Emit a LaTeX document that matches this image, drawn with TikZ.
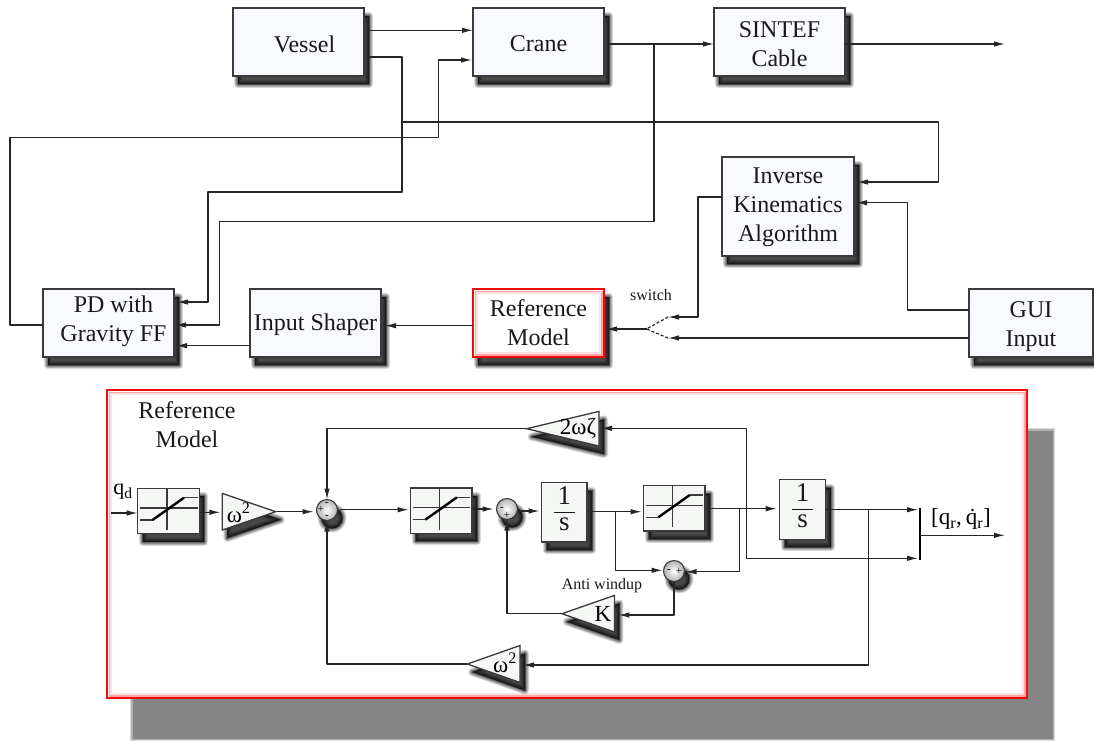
\documentclass[tikz,border=0pt]{standalone}
\usepackage{fontspec}
\setmainfont{Liberation Serif}
\usetikzlibrary{arrows.meta,shadows,shapes.geometric}
\definecolor{boxfill}{HTML}{F8FAFF}
\definecolor{lowfill}{HTML}{F5F7F5}
\definecolor{edge}{HTML}{3A3A3A}
\definecolor{shgray}{HTML}{858585}
\definecolor{redframe}{HTML}{F00A0A}
\newcommand{\nudge}[2]{\raisebox{#1}[\height][\depth]{#2}}
\newcommand{\oneovers}{{\setlength{\arrayrulewidth}{1pt}\renewcommand{\arraystretch}{.86}\begin{tabular}{@{}c@{}}\makebox[21pt]{1}\\\hline s\end{tabular}}}
\newcommand{\satsymbol}[1]{%
  \draw[edge,line width=1.1pt] ([shift={(-28.5pt,3pt)}]#1.center) -- ([shift={(29pt,3pt)}]#1.center);
  \draw[edge,line width=1.1pt] ([shift={(-1.5pt,22pt)}]#1.center) -- ([shift={(-1.5pt,-19pt)}]#1.center);
  \draw[edge,line width=1.1pt] ([shift={(-28.5pt,-9pt)}]#1.center) -- ([shift={(-16pt,-9pt)}]#1.center);
  \draw[edge,line width=1.1pt] ([shift={(15.5pt,13.3pt)}]#1.center) -- ([shift={(29pt,13.3pt)}]#1.center);
  \draw[black,line width=2.4pt] ([shift={(-16pt,-9pt)}]#1.center) -- ([shift={(15.5pt,13.3pt)}]#1.center);
}
\newcommand{\redglow}[1]{%
  \draw[draw=red!12,line width=2pt] ([shift={(4.4pt,-4.4pt)}]#1.north west) rectangle ([shift={(-4.4pt,4.4pt)}]#1.south east);
  \draw[draw=red!35,line width=1.8pt] ([shift={(2.4pt,-2.4pt)}]#1.north west) rectangle ([shift={(-2.4pt,2.4pt)}]#1.south east);
}
\tikzset{
  softshadow/.style={
    general shadow={shadow xshift=5pt,shadow yshift=-8pt,fill=black,draw=black,line width=8pt,line join=round,opacity=.15},
    general shadow={shadow xshift=5pt,shadow yshift=-8pt,fill=black,draw=black,line width=6pt,line join=round,opacity=.18},
    general shadow={shadow xshift=5pt,shadow yshift=-8pt,fill=black,draw=black,line width=4pt,line join=round,opacity=.22},
    general shadow={shadow xshift=5pt,shadow yshift=-8pt,fill=black,draw=black,line width=2pt,line join=round,opacity=.25},
    general shadow={shadow xshift=5pt,shadow yshift=-8pt,fill=black,draw=black,line width=.5pt,line join=round,opacity=.3}},
  bigshadow/.style={
    general shadow={shadow xshift=25.5pt,shadow yshift=-40.5pt,fill=shgray,draw=shgray,line width=5pt,opacity=.3},
    general shadow={shadow xshift=25.5pt,shadow yshift=-40.5pt,fill=shgray,draw=shgray,line width=2.5pt,opacity=.5},
    general shadow={shadow xshift=25.5pt,shadow yshift=-40.5pt,fill=shgray}},
  bigtext/.style={font=\fontsize{24}{29}\selectfont,align=center,text=black!90},
  smalltext/.style={font=\fontsize{16}{18}\selectfont,text=black!90},
  blockbox/.style={rectangle,draw=edge,line width=1.8pt,fill=boxfill,inner sep=0pt,outer sep=0pt,softshadow,bigtext},
  lowbox/.style={rectangle,draw=edge,line width=1.3pt,fill=lowfill,inner sep=0pt,outer sep=0pt,softshadow,bigtext},
  redbox/.style={rectangle,draw=redframe,line width=2.6pt,fill=white,inner sep=0pt,outer sep=0pt},
  triblock/.style={shape=isosceles triangle,isosceles triangle stretches,draw=edge,line width=1.3pt,fill=lowfill,inner sep=0pt,outer sep=0pt,softshadow},
  sumnode/.style={circle,draw=edge,line width=1.1pt,inner color=white,outer color=black!30,minimum size=21pt,inner sep=0pt,outer sep=0pt,softshadow},
  signtext/.style={font=\fontsize{11}{11}\selectfont,inner sep=0pt,text=black},
  conn/.style={line width=1.2pt,draw=black!85,line join=round},
  arr/.style={conn,-{Latex[length=11pt,width=5.5pt]}}
}
\begin{document}
\begin{tikzpicture}[x=1pt,y=-1pt]
\useasboundingbox (0,0) rectangle (1094,740);
% upper blocks
\node[blockbox,minimum width=131pt,minimum height=68pt] (vessel) at (298.5,42) {\nudge{-2pt}{\hspace*{12pt}Vessel}};
\node[blockbox,minimum width=131pt,minimum height=68pt] (crane) at (538.5,42) {\nudge{-2pt}{Crane}};
\node[blockbox,minimum width=131pt,minimum height=68pt] (cable) at (779.5,42) {\nudge{-4pt}{\begin{tabular}{@{}c@{}}SINTEF\\Cable\end{tabular}}};
\node[blockbox,minimum width=132pt,minimum height=99pt] (ik) at (788,206.5) {\begin{tabular}{@{}c@{}}Inverse\\Kinematics\\Algorithm\end{tabular}};
\node[blockbox,minimum width=131pt,minimum height=68pt] (pd) at (108.5,323) {\nudge{2pt}{\begin{tabular}{@{}c@{}}\hspace*{10pt}PD with\\\hspace*{10pt}Gravity FF\end{tabular}}};
\node[blockbox,minimum width=131pt,minimum height=68pt] (shaper) at (315.5,323) {\nudge{-2pt}{Input Shaper}};
\node[redbox,minimum width=131pt,minimum height=68pt,softshadow,bigtext] (refm) at (538.5,323) {Reference\\Model};
\redglow{refm}
\node[blockbox,minimum width=124pt,minimum height=68pt] (gui) at (1031,323) {\nudge{-3pt}{\begin{tabular}{@{}c@{}}GUI\\Input\end{tabular}}};
\coordinate (craneJ) at (654,44);
\coordinate (vesselJ) at (402,122);
\coordinate (swc) at (646.5,329);
\coordinate (swa) at (668,317);
\coordinate (swb) at (668,338);
\coordinate (cableEnd) at (1005,44);
\node[smalltext] (switchlabel) at (651,295) {switch};
% upper connectors
\draw[arr,shorten <=3pt] (vessel.east |- 0,30.3) -- (crane.west |- 0,30.3);
\draw[arr,shorten <=4pt,shorten >=3pt] (vessel.east |- 0,57) -- (402,57) -- (402,192) -- (208,192) -- (208,302) -- (pd.east |- 0,302);
\draw[arr,shorten >=1pt] (pd.west |- 0,325) -- (10,325) -- (10,137.5) -- (438.6,137.5) -- (438.6,60) -- (crane.west |- 0,60);
\draw[arr,shorten <=3pt] (crane.east |- 0,44) -- (cable.west |- 0,44);
\draw[arr] (cable.east |- 0,44) -- (cableEnd);
\draw[arr,shorten >=1pt] (craneJ) -- (654,221.7) -- (219.6,221.7) -- (219.6,325) -- (pd.east |- 0,325);
\draw[arr,shorten >=3pt] (vesselJ) -- (938.6,122) -- (938.6,182) -- (ik.east |- 0,182);
\draw[arr,shorten >=2pt] (gui.west |- 0,310) -- (907.4,310) -- (907.4,202.7) -- (ik.east |- 0,202.7);
\draw[arr] (ik.west |- 0,197) -- (698,197) -- (698,317) -- (swa);
\draw[arr] (gui.west |- 0,338) -- (swb);
\draw[conn,dashed,dash pattern=on 3pt off 2pt] (swa) -- (swc) -- (swb);
\draw[arr,shorten >=2pt] (swc) -- (refm.east |- swc);
\draw[arr,shorten >=4pt] (refm.west |- 0,325.7) -- (shaper.east |- 0,325.7);
\draw[arr,shorten >=2pt] (shaper.west |- 0,345.7) -- (pd.east |- 0,345.7);
% lower frame
\node[redbox,bigshadow,minimum width=920pt,minimum height=308pt] (frame) at (567,544) {};
\redglow{frame}
\node[bigtext] (frametitle) at (187,425) {Reference\\Model};
\node[lowbox,minimum width=61.6pt,minimum height=45.4pt] (sat1) at (168.5,511) {};
\node[lowbox,minimum width=61.3pt,minimum height=45.3pt] (sat2) at (441.3,510.7) {};
\node[lowbox,minimum width=61.4pt,minimum height=45.3pt] (sat3) at (674.3,508.3) {};
\satsymbol{sat1}\satsymbol{sat2}\satsymbol{sat3}
\node[lowbox,minimum width=45.6pt,minimum height=59.3pt,font=\fontsize{27}{29}\selectfont] (int1) at (564.3,512.3) {\oneovers};
\node[lowbox,minimum width=45.8pt,minimum height=59.6pt,font=\fontsize{27}{29}\selectfont] (int2) at (802.6,509.5) {\oneovers};
\node[triblock,minimum height=53.4pt,minimum width=36.6pt,anchor=apex] (g1) at (275.7,511.7) {};
\node[triblock,shape border rotate=180,minimum height=72.3pt,minimum width=34.7pt,anchor=apex] (gz) at (526.7,428.7) {};
\node[triblock,shape border rotate=180,minimum height=52.7pt,minimum width=37pt,anchor=apex] (g2) at (467.3,664) {};
\node[triblock,shape border rotate=180,minimum height=52.4pt,minimum width=36.6pt,anchor=apex] (gk) at (562,613.7) {};
\node[font=\fontsize{23}{24}\selectfont] (g1t) at (238.7,513) {ω\textsuperscript{2}};
\node[font=\fontsize{23}{24}\selectfont] (g2t) at (505,663) {ω\textsuperscript{2}};
\node[font=\fontsize{23}{24}\selectfont] (gzt) at (578,428) {2ωζ};
\node[font=\fontsize{23}{24}\selectfont] (gkt) at (603,613.7) {K};
\node[sumnode] (s1) at (327,510) {};
\node[sumnode] (s2) at (507,509) {};
\node[sumnode] (s3) at (674,571) {};
\node[signtext] (s1a) at (321,509) {+};
\node[signtext] (s1b) at (327,503.5) {-};
\node[signtext] (s1c) at (327,516.5) {-};
\node[signtext] (s2a) at (502,509) {-};
\node[signtext] (s2b) at (507,515) {+};
\node[signtext] (s3a) at (669,571) {-};
\node[signtext] (s3b) at (679,571) {+};
\node[smalltext] (awlabel) at (602,586) {Anti windup};
\node[font=\fontsize{22}{24}\selectfont] (qd) at (123,492) {q\textsubscript{d}};
\coordinate (qin) at (110.7,513);
\coordinate (muxtop) at (920,508.3);
\coordinate (muxbot) at (920,559.7);
\coordinate (muxmid) at (920,535.3);
\coordinate (qout) at (1005,535.3);
\coordinate (jA) at (868.5,509.7);
\coordinate (jB) at (746.5,508.7);
\coordinate (jC) at (739.4,508.7);
\coordinate (jD) at (615.4,511.7);
\node[font=\fontsize{23}{24}\selectfont] (qrlabel) at (961,519) {[q\textsubscript{r},\,\.q\textsubscript{r}]};
% lower connectors
\draw[arr] (qin) -- (sat1.west |- qin);
\draw[arr,shorten <=1pt,shorten >=2pt] (sat1.east |- 0,512.3) -- (g1.lower side |- 0,512.3);
\draw[arr,shorten <=1pt,shorten >=3pt] (g1.apex) -- (s1.west |- g1.apex);
\draw[arr,shorten <=2pt,shorten >=2pt] (s1.east |- 0,509.7) -- (sat2.west |- 0,509.7);
\draw[arr,shorten <=1pt,shorten >=3pt] (sat2.east |- s2) -- (s2.west);
\draw[arr,shorten <=1pt,shorten >=2pt] (s2.east |- 0,511) -- (int1.west |- 0,511);
\draw[arr,shorten <=1pt,shorten >=2pt] (int1.east |- jD) -- (sat3.west |- jD);
\draw[arr,shorten <=1pt,shorten >=3pt] (sat3.east |- jB) -- (int2.west |- jB);
\draw[arr,shorten >=2pt] (int2.east |- jA) -- (muxtop |- jA);
\draw[line width=2.2pt,draw=black] (muxtop) -- (muxbot);
\draw[arr] (muxmid) -- (qout);
\draw[arr,shorten >=2pt] (jB) -- (746.5,558.3) -- (muxbot |- 0,558.3);
\draw[arr,shorten >=2pt] (jB) -- (746.5,428.3) -- (gz.lower side |- 0,428.3);
\draw[arr] (gz.apex) -- (s1 |- gz.apex) -- (s1.north);
\draw[arr,shorten >=3pt] (jA) -- (868.5,665) -- (g2.lower side |- 0,665);
\draw[arr] (g2.apex) -- (s1 |- g2.apex) -- (s1.south);
\draw[arr,shorten >=1pt] (jD) -- (615.4,570.3) -- (s3.west |- 0,570.3);
\draw[arr,shorten >=1pt] (jC) -- (739.4,571.7) -- (s3.east |- 0,571.7);
\draw[arr,shorten >=4pt] (s3.south) -- (674,615) -- (gk.lower side |- 0,615);
\draw[arr] (gk.apex) -- (s2 |- gk.apex) -- (s2.south);
\end{tikzpicture}
\end{document}
